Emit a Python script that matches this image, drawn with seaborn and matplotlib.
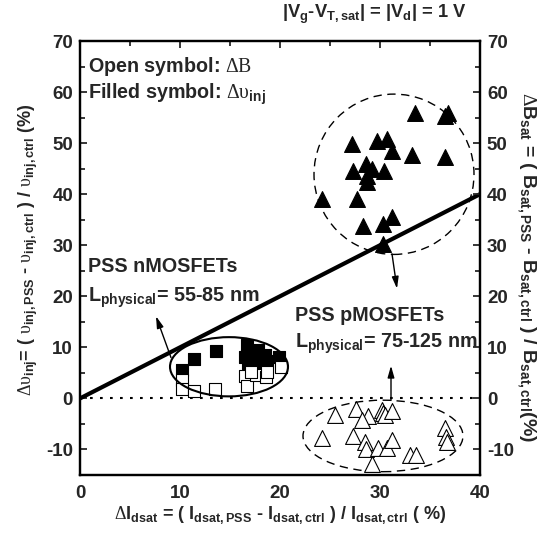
import numpy as np
import pandas as pd
import seaborn as sns
import matplotlib.pyplot as plt
from matplotlib.patches import Ellipse

# nMOSFETs (squares)
n_dB_x = [10.2, 10.2, 11.4, 13.5, 16.5, 16.7, 17.6, 18.6, 18.7, 20.1, 17.1]
n_dB_y = [3.7, 1.9, 1.4, 1.8, 4.3, 2.5, 4.5, 4.1, 5.1, 6.1, 5.1]
n_dv_x = [10.2, 11.4, 13.6, 16.7, 16.5, 17.3, 18.5, 18.7, 19.9, 16.8, 17.8, 18.0]
n_dv_y = [5.5, 7.8, 9.2, 10.4, 8.2, 8.2, 8.6, 7.3, 8.2, 7.0, 9.5, 6.8]

# pMOSFETs (triangles)
p_dv_x = [33.5, 36.5, 36.8, 27.2, 29.7, 30.7, 31.2, 33.2, 36.5, 28.6, 27.3,
          29.2, 30.4, 28.7, 28.7, 24.2, 27.7, 28.3, 30.3, 31.2, 30.3]
p_dv_y = [55.9, 55.3, 55.9, 49.8, 50.4, 50.8, 48.4, 47.6, 47.2, 45.9, 44.5,
          44.9, 44.5, 43.5, 42.3, 39.0, 39.0, 33.7, 34.1, 35.5, 30.2]
p_dB_x = [25.5, 27.6, 28.8, 28.2, 30.2, 30.3, 30.5, 31.2, 24.2, 27.3, 28.5,
          28.6, 29.8, 30.7, 31.2, 33.0, 33.6, 29.2, 36.5, 36.6, 36.7]
p_dB_y = [-3.3, -2.0, -3.5, -4.3, -2.2, -2.9, -3.3, -2.5, -7.8, -7.4, -8.6,
          -10.0, -9.8, -9.8, -8.2, -11.0, -11.0, -12.9, -5.7, -7.6, -8.6]

y_ticks = [-10, 0, 10, 20, 30, 40, 50, 60, 70]
x_ticks = [0, 10, 20, 30, 40]

sns.set_style("white")
plt.rcParams["font.family"] = ["Liberation Sans", "DejaVu Sans"]
plt.rcParams["font.weight"] = "bold"
plt.rcParams["axes.labelweight"] = "bold"
plt.rcParams["axes.unicode_minus"] = False
plt.rcParams["mathtext.fontset"] = "custom"
plt.rcParams["mathtext.rm"] = "Liberation Serif:weight=normal"
plt.rcParams["mathtext.bf"] = "Liberation Sans:weight=bold"
plt.rcParams["mathtext.it"] = "Liberation Sans:weight=bold"
plt.rcParams["mathtext.sf"] = "Liberation Serif:weight=normal"

fig = plt.figure(figsize=(5.4, 5.33), dpi=100)
ax = fig.add_axes([80 / 540, 1 - 475 / 533, 400 / 540, 434 / 533])

# reference line and zero line
ax.plot([0, 40], [0, 40], color="black", lw=3, zorder=1, solid_capstyle="butt")
ax.axhline(0, color="black", lw=1.5, ls=(0, (1.3, 3.5)), zorder=1)

sq = pd.DataFrame({"x": n_dv_x, "y": n_dv_y})
sns.scatterplot(data=sq, x="x", y="y", marker="s", s=78, color="black",
                edgecolor="black", linewidth=0.8, ax=ax, zorder=3)
sq2 = pd.DataFrame({"x": n_dB_x, "y": n_dB_y})
sns.scatterplot(data=sq2, x="x", y="y", marker="s", s=78, color="white",
                edgecolor="black", linewidth=0.8, ax=ax, zorder=4)
tr = pd.DataFrame({"x": p_dv_x, "y": p_dv_y})
sns.scatterplot(data=tr, x="x", y="y", marker="^", s=130, color="black",
                edgecolor="black", linewidth=0.8, ax=ax, zorder=3)
tr2 = pd.DataFrame({"x": p_dB_x, "y": p_dB_y})
sns.scatterplot(data=tr2, x="x", y="y", marker="^", s=130, color="white",
                edgecolor="black", linewidth=0.8, ax=ax, zorder=3)

# grouping shapes
ax.add_patch(Ellipse((14.9, 6.2), 11.8, 11.6, fill=False, ec="black", lw=1.5, zorder=5))
ax.add_patch(Ellipse((31.4, 43.9), 16, 31.4, fill=False, ec="black", lw=1,
                     ls=(0, (6, 4)), zorder=2))
ax.add_patch(Ellipse((30.3, -7.35), 16, 14, fill=False, ec="black", lw=1,
                     ls=(0, (6, 4)), zorder=2))

arrow = dict(arrowstyle="-|>,head_width=0.2,head_length=0.7", color="black",
             lw=1, shrinkA=0, shrinkB=0)
ax.annotate("", xy=(7.6, 16.1), xytext=(9.1, 8.0), arrowprops=arrow)
ax.annotate("", xy=(31.7, 21.5), xytext=(31.2, 28.3), arrowprops=arrow)
ax.annotate("", xy=(31.1, 6.4), xytext=(31.1, -0.4), arrowprops=arrow)

fs = 14.2
ax.text(0.8, 65, r"Open symbol: $\mathrm{\Delta B}$", fontsize=fs, va="center")
ax.text(0.8, 59.5, r"Filled symbol: $\mathrm{\Delta\upsilon}_{\mathbf{inj}}$",
        fontsize=fs, va="center")
ax.text(0.8, 25.8, "PSS nMOSFETs", fontsize=fs, va="center")
ax.text(0.8, 19.8, r"L$_{\mathbf{physical}}$= 55-85 nm", fontsize=fs, va="center")
ax.text(21.5, 16.2, "PSS pMOSFETs", fontsize=fs, va="center")
ax.text(21.5, 10.8, r"L$_{\mathbf{physical}}$= 75-125 nm", fontsize=fs, va="center")
fig.text(282 / 540, 1 - 14 / 533, r"|V$_{\mathbf{g}}$-V$_{\mathbf{T,sat}}$| = |V$_{\mathbf{d}}$| = 1 V",
         fontsize=13.2, va="center", ha="left")

tfs = 13.5
ax.set_xlim(0, 40)
ax.set_ylim(-15, 70)
ax.set_xticks(x_ticks)
ax.set_yticks(y_ticks)
ax.set_xticks(np.arange(5, 40, 10), minor=True)
ax.set_yticks(np.arange(-15, 70, 10), minor=True)
ax.tick_params(which="both", direction="in", top=True, width=1.3, labelsize=tfs)
ax.tick_params(which="major", length=5)
ax.tick_params(which="minor", length=3.5)
ax.tick_params(axis="x", pad=7)
ax.tick_params(axis="y", pad=5)

ax2 = ax.twinx()
ax2.set_ylim(-15, 70)
ax2.set_yticks(y_ticks)
ax2.set_yticks(np.arange(-15, 70, 10), minor=True)
ax2.tick_params(which="both", direction="in", width=1.3, labelsize=tfs, pad=5)
ax2.tick_params(which="major", length=5)
ax2.tick_params(which="minor", length=3.5)

for a in (ax, ax2):
    for sp in a.spines.values():
        sp.set_linewidth(1.6)
        sp.set_color("black")

lfs = 13
ax.set_xlabel(r"$\mathrm{\Delta}$I$_{\mathbf{dsat}}$ = ( I$_{\mathbf{dsat,PSS}}$ - I$_{\mathbf{dsat,ctrl}}$ ) / I$_{\mathbf{dsat,ctrl}}$ ( %)",
              fontsize=lfs, fontweight="bold", labelpad=2)
ax.set_ylabel(r"$\mathrm{\Delta\upsilon}_{\mathbf{inj}}$= ( $\mathrm{\upsilon}_{\mathbf{inj,PSS}}$ - $\mathrm{\upsilon}_{\mathbf{inj,ctrl}}$ ) / $\mathrm{\upsilon}_{\mathbf{inj,ctrl}}$ (%)",
              fontsize=lfs, fontweight="bold")
ax.yaxis.set_label_coords(-0.1, 0.52)
ax2.set_ylabel(r"$\mathrm{\Delta}$B$_{\mathbf{sat}}$ = ( B$_{\mathbf{sat,PSS}}$ - B$_{\mathbf{sat,ctrl}}$ ) / B$_{\mathbf{sat,ctrl}}$(%)",
               fontsize=14, fontweight="bold", rotation=270, va="center")
ax2.yaxis.set_label_coords(1.115, 0.48)

fig.savefig("out.png", dpi=100)
